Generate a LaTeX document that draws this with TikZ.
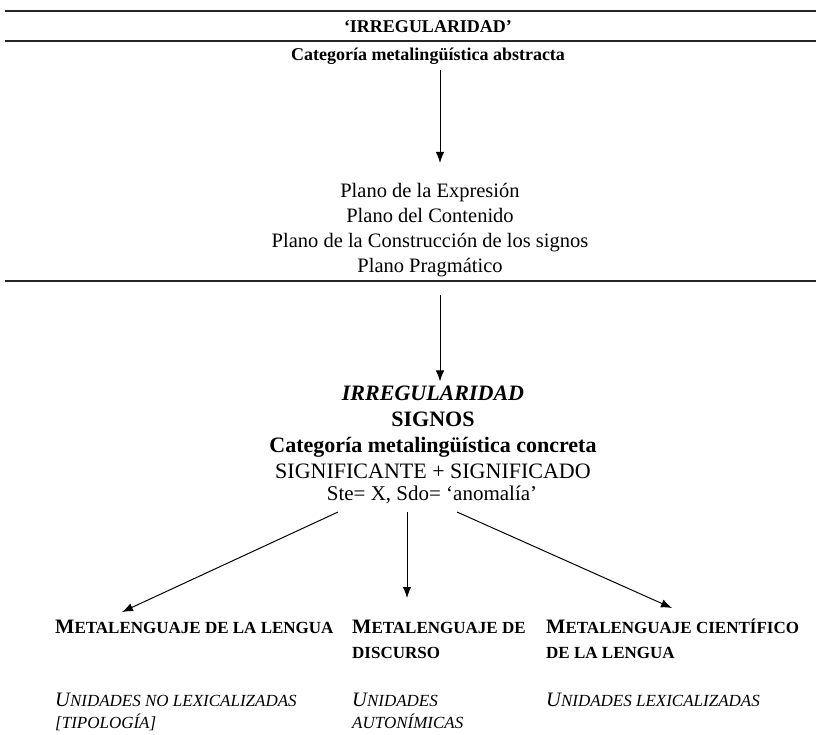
\documentclass[tikz,border=0pt]{standalone}
\usepackage{fontspec}
\setmainfont{Liberation Serif}
\usetikzlibrary{arrows.meta}

\newcommand{\fakesc}[2]{{\fontsize{20.5}{25}\selectfont #1}{\fontsize{17}{25}\selectfont #2}}

\begin{document}
\begin{tikzpicture}[x=1pt,y=-1pt]

\tikzset{txt/.style = {font=\fontsize{20.5}{25}\selectfont, align=center, inner sep=0pt}}
\tikzset{bold/.style = {font=\bfseries\fontsize{18}{25}\selectfont}}
\tikzset{col/.style = {align=left, anchor=base west, inner sep=0pt, font=\bfseries\fontsize{17}{25}\selectfont}}
\tikzset{unid/.style = {align=left, anchor=base west, inner sep=0pt, font=\itshape\fontsize{17}{22}\selectfont}}
\tikzset{edge/.style = {-{Latex[length=11pt,width=8.5pt]}, line width=1pt}}
\tikzset{rule/.style = {line width=1.4pt, black!85}}
\useasboundingbox (0,0) rectangle (816,734);

%bands
\draw[rule] (5,11) -- (816,11);
\draw[rule] (5,41) -- (816,41);
\draw[rule] (5,281) -- (816,281);

%top
\node[txt, bold] (titulo) at (428,27) {‘IRREGULARIDAD’};
\node[txt, bold] (abstracta) at (428,56) {Categoría metalingüística abstracta};
\node[txt] (planos) at (430,230) {Plano de la Expresión\\Plano del Contenido\\Plano de la Construcción de los signos\\Plano Pragmático};

%middle
\node[txt, font=\bfseries\fontsize{22}{26}\selectfont] (signos) at (433,432)
  {\textit{IRREGULARIDAD}\\SIGNOS\\Categoría metalingüística concreta\\\mdseries SIGNIFICANTE + SIGNIFICADO};
\node[txt, font=\fontsize{21}{26}\selectfont] (ste) at (432,495) {Ste= X, Sdo= ‘anomalía’};

%bottom (base = last line)
\node[col] (mleng) at (55,633) {\fakesc{M}{ETALENGUAJE DE LA LENGUA}};
\node[col] (mdisc) at (352,658) {\fakesc{M}{ETALENGUAJE DE}\\\fakesc{}{DISCURSO}};
\node[col] (mcien) at (546,658) {\fakesc{M}{ETALENGUAJE CIENTÍFICO}\\\fakesc{}{DE LA LENGUA}};
\node[unid] (uleng) at (55,728) {\fakesc{U}{NIDADES NO LEXICALIZADAS}\\\fakesc{}{[TIPOLOGÍA]}};
\node[unid] (udisc) at (352,728) {\fakesc{U}{NIDADES}\\\fakesc{}{AUTONÍMICAS}};
\node[unid] (ucien) at (546,706) {\fakesc{U}{NIDADES LEXICALIZADAS}};

%arrows
\coordinate (a1) at (440,70);
\coordinate (a2) at (440,295);
\coordinate (s1) at (338,512);
\coordinate (s2) at (407,512);
\coordinate (s3) at (457,512);
\draw[edge] (a1) -- ([yshift=20pt]a1 |- planos.north);
\draw[edge] (a2) -- ([yshift=4pt]a2 |- signos.north);
\draw[edge] (s1) -- ([xshift=67pt,yshift=21pt]mleng.base west);
\draw[edge] (s2) -- ([yshift=35pt]s2 |- mleng.base);
\draw[edge] (s3) -- ([xshift=126pt,yshift=25pt]mleng.base -| mcien.west);

\end{tikzpicture}
\end{document}
